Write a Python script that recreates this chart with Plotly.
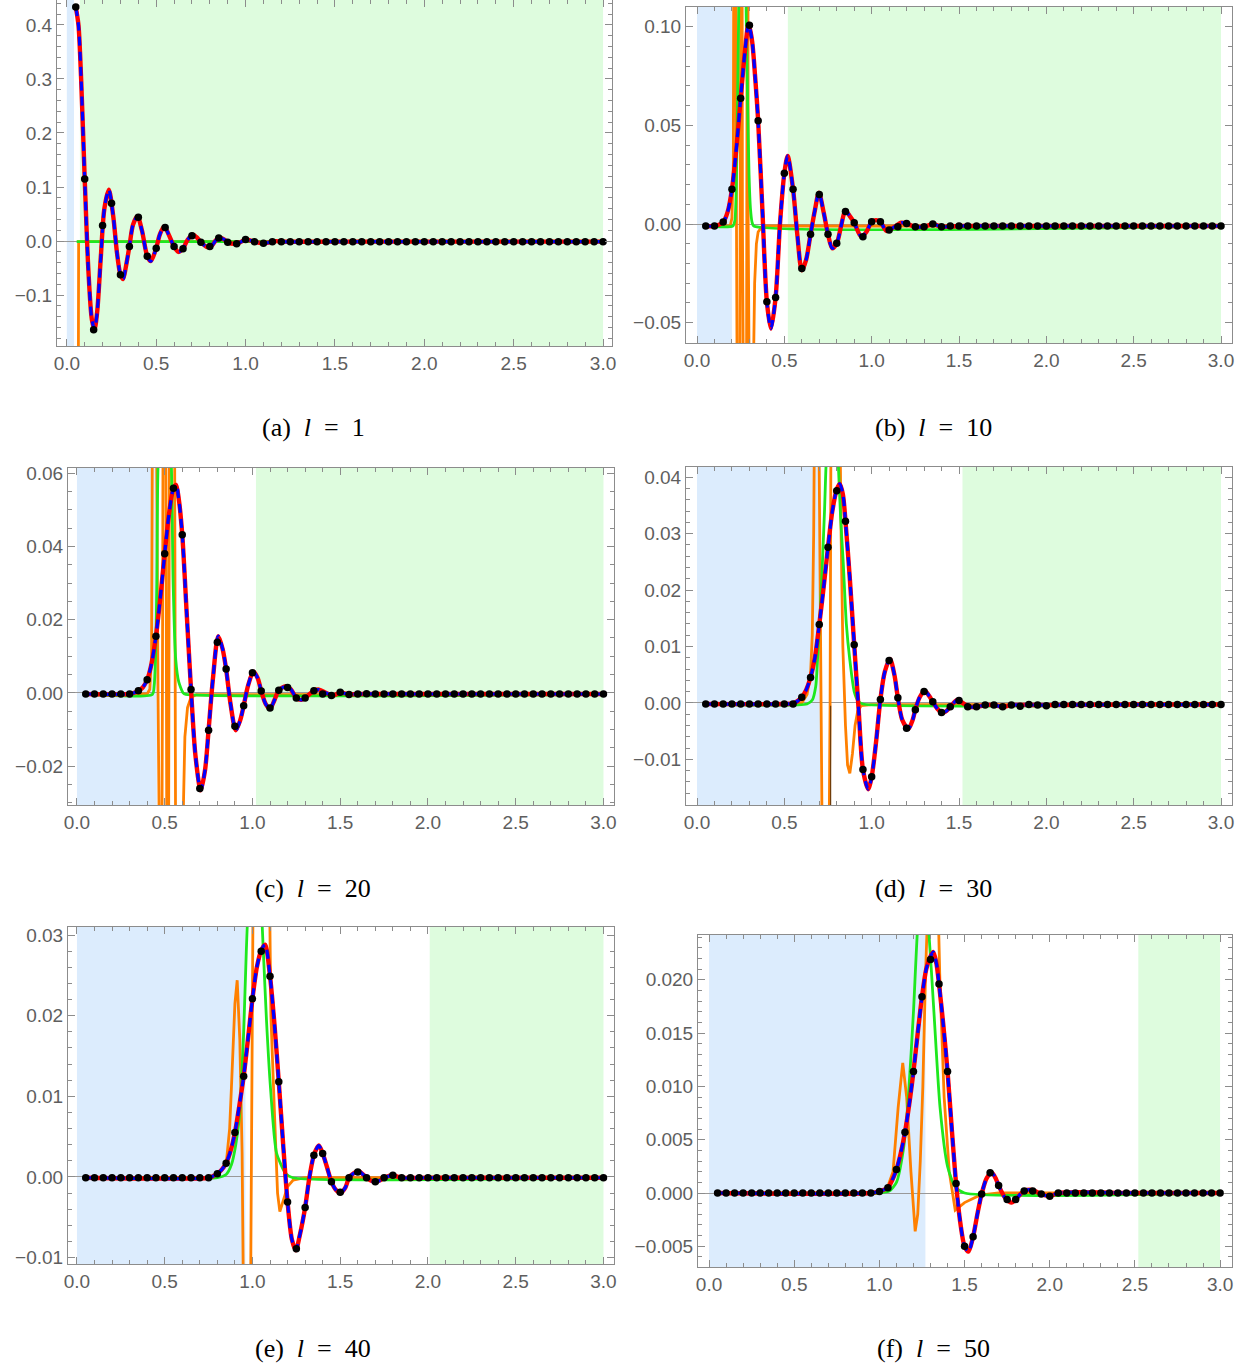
import plotly.graph_objects as go

W, H = 1248, 1366

DOT_X = [0.05, 0.10, 0.15, 0.20, 0.25, 0.30, 0.35, 0.40, 0.45, 0.50,
         0.55, 0.60, 0.65, 0.70, 0.75, 0.80, 0.85, 0.90, 0.95, 1.00,
         1.05, 1.10, 1.15, 1.20, 1.25, 1.30, 1.35, 1.40, 1.45, 1.50,
         1.55, 1.60, 1.65, 1.70, 1.75, 1.80, 1.85, 1.90, 1.95, 2.00,
         2.05, 2.10, 2.15, 2.20, 2.25, 2.30, 2.35, 2.40, 2.45, 2.50,
         2.55, 2.60, 2.65, 2.70, 2.75, 2.80, 2.85, 2.90, 2.95, 3.00]

# ---------------- panel (a) l = 1 ----------------
A_DOT_Y = [0.433, 0.115, -0.164, 0.029, 0.070, -0.062, -0.010, 0.044, -0.028, -0.013,
           0.025, -0.010, -0.014, 0.010, -0.002, -0.010, 0.006, -0.002, -0.005, 0.003,
           -0.001, -0.004, -0.001, -0.001, -0.001, -0.001, -0.001, -0.001, -0.001, -0.001,
           -0.001, -0.001, -0.001, -0.001, -0.001, -0.001, -0.001, -0.001, -0.001, -0.001,
           -0.001, -0.001, -0.001, -0.001, -0.001, -0.001, -0.001, -0.001, -0.001, -0.001,
           -0.001, -0.001, -0.001, -0.001, -0.001, -0.001, -0.001, -0.001, -0.001, -0.001]
A_CURVE_X = [0.05, 0.065, 0.08, 0.10, 0.12, 0.14, 0.155, 0.17, 0.19, 0.21, 0.235, 0.26, 0.28,
             0.30, 0.315, 0.33, 0.35, 0.37, 0.395, 0.42, 0.45, 0.47, 0.50, 0.52, 0.545, 0.57,
             0.60, 0.625, 0.65, 0.675, 0.705, 0.73, 0.75, 0.785, 0.81, 0.835, 0.86, 0.885,
             0.90, 0.94, 0.97, 1.00, 1.03, 1.05, 1.09, 1.12, 1.17, 1.20, 1.5, 2.0, 2.5, 3.0]
A_CURVE_Y = [0.433, 0.40, 0.30, 0.115, -0.05, -0.145, -0.163, -0.13, -0.03, 0.06, 0.095, 0.045, -0.02,
             -0.062, -0.070, -0.048, -0.010, 0.030, 0.046, 0.020, -0.028, -0.037, -0.013, 0.012, 0.027, 0.012,
             -0.010, -0.020, -0.014, 0.002, 0.012, 0.006, -0.002, -0.011, -0.009, 0.002, 0.006, 0.002,
             -0.002, -0.005, -0.002, 0.003, 0.001, -0.001, -0.004, -0.003, 0.0, -0.001, -0.001, -0.001, -0.001, -0.001]
A_ORANGE_X = [0.060, 0.062, 0.066, 3.0]
A_ORANGE_Y = [-1.0, -0.3, -0.001, -0.001]
A_GREEN_X = [0.055, 3.0]
A_GREEN_Y = [-0.001, -0.001]
A_REGIONS = [0.04, 0.073]   # blue end, green start

# ---------------- panel (b) l = 10 ----------------
B_DOT_Y = [-0.001, -0.001, 0.001, 0.0176, 0.0637, 0.1008, 0.0524, -0.0394, -0.0372, 0.0257,
           0.0176, -0.0225, -0.0052, 0.0150, -0.0052, -0.0098, 0.0063, 0.0007, -0.0064, 0.0012,
           0.0012, -0.003, -0.0014, 0.0003, -0.0014, -0.0014, 0.0, -0.0014, -0.001, -0.001,
           -0.001, -0.001, -0.001, -0.001, -0.001, -0.001, -0.001, -0.001, -0.001, -0.001,
           -0.001, -0.001, -0.001, -0.001, -0.001, -0.001, -0.001, -0.001, -0.001, -0.001,
           -0.001, -0.001, -0.001, -0.001, -0.001, -0.001, -0.001, -0.001, -0.001, -0.001]
B_CURVE_X = [0.05, 0.10, 0.15, 0.175, 0.20, 0.225, 0.25, 0.275, 0.295, 0.315, 0.335, 0.35, 0.375,
             0.40, 0.423, 0.45, 0.475, 0.50, 0.519, 0.55, 0.575, 0.60, 0.625, 0.65, 0.675, 0.698,
             0.725, 0.75, 0.774, 0.80, 0.825, 0.849, 0.875, 0.90, 0.94, 0.97, 1.00, 1.025, 1.05,
             1.085, 1.12, 1.17, 1.20, 1.25, 1.30, 1.35, 1.40, 1.5, 2.0, 2.5, 3.0]
B_CURVE_Y = [-0.001, -0.001, 0.001, 0.006, 0.0176, 0.038, 0.0637, 0.088, 0.1015, 0.093, 0.072, 0.0524, 0.006,
             -0.0394, -0.053, -0.0372, 0.0, 0.0257, 0.0345, 0.0176, -0.006, -0.0235, -0.018, -0.0052, 0.007, 0.0159,
             0.006, -0.0052, -0.0123, -0.0098, -0.001, 0.0068, 0.004, 0.0007, -0.0064, -0.004, 0.0012, 0.002, 0.0012,
             -0.0035, -0.002, 0.0007, 0.0003, -0.0014, -0.0014, 0.0, -0.0014, -0.001, -0.001, -0.001, -0.001]
B_ORANGE_X = [0.05, 0.19, 0.20, 0.208, 0.214, 0.22, 0.226, 0.232, 0.24, 0.247, 0.252, 0.256, 0.26,
              0.265, 0.28, 0.285, 0.288, 0.29, 0.293, 0.297, 0.315, 0.322, 0.33, 0.34, 0.35, 0.37, 0.40, 3.0]
B_ORANGE_Y = [-0.001, -0.001, 0.003, 0.03, 0.3, 0.3, 0.0, -0.3, -0.3, 0.0, 0.3, 0.3, 0.0,
              -0.3, -0.3, 0.0, 0.3, 0.3, 0.0, -0.3, -0.3, -0.08, -0.03, -0.01, -0.004, -0.0015, -0.001, -0.001]
B_GREEN_X = [0.05, 0.205, 0.217, 0.225, 0.232, 0.24, 0.26, 0.28, 0.29, 0.298, 0.306, 0.315, 0.325, 3.0]
B_GREEN_Y = [-0.001, -0.001, 0.002, 0.02, 0.06, 0.115, 0.20, 0.115, 0.06, 0.025, 0.008, 0.001, -0.001, -0.001]
B_REGIONS = [0.20, 0.52]

# ---------------- panel (c) l = 20 ----------------
C_DOT_Y = [-0.0003, -0.0003, -0.0003, -0.0003, -0.0003, -0.0003, 0.0006, 0.0036, 0.0155, 0.0380,
           0.0559, 0.0432, 0.0009, -0.0261, -0.0102, 0.0138, 0.0065, -0.0091, -0.0035, 0.0055,
           0.0005, -0.0041, 0.0007, 0.0015, -0.0014, -0.0014, 0.0006, -0.0003, -0.0007, 0.0002,
           -0.0004, -0.0003, -0.0002, -0.0003, -0.0003, -0.0003, -0.0003, -0.0003, -0.0003, -0.0003,
           -0.0003, -0.0003, -0.0003, -0.0003, -0.0003, -0.0003, -0.0003, -0.0003, -0.0003, -0.0003,
           -0.0003, -0.0003, -0.0003, -0.0003, -0.0003, -0.0003, -0.0003, -0.0003, -0.0003, -0.0003]
C_CURVE_X = [0.05, 0.30, 0.33, 0.35, 0.375, 0.40, 0.425, 0.45, 0.475, 0.50, 0.525, 0.55, 0.565, 0.58,
             0.60, 0.625, 0.65, 0.675, 0.705, 0.73, 0.75, 0.775, 0.805, 0.83, 0.85, 0.875, 0.905, 0.93,
             0.95, 0.975, 1.005, 1.03, 1.05, 1.075, 1.10, 1.125, 1.15, 1.19, 1.22, 1.25, 1.28, 1.31,
             1.35, 1.38, 1.42, 1.46, 1.50, 1.55, 1.6, 2.0, 2.5, 3.0]
C_CURVE_Y = [-0.0003, -0.0003, 0.0001, 0.0006, 0.0015, 0.0036, 0.008, 0.0155, 0.026, 0.038, 0.049, 0.0559, 0.0568, 0.053,
             0.0432, 0.022, 0.0009, -0.017, -0.0266, -0.021, -0.0102, 0.004, 0.0155, 0.012, 0.0065, -0.003, -0.0102, -0.0075,
             -0.0035, 0.002, 0.0058, 0.004, 0.0005, -0.003, -0.0043, -0.002, 0.0007, 0.0018, 0.0009, -0.0014, -0.0019, -0.001,
             0.0006, 0.0009, 0.0, -0.0007, 0.0001, -0.0004, -0.0003, -0.0003, -0.0003, -0.0003]
C_ORANGE_X = [0.05, 0.40, 0.415, 0.425, 0.432, 0.45, 0.462, 0.47, 0.48, 0.487, 0.492, 0.505, 0.51,
              0.515, 0.52, 0.525, 0.528, 0.555, 0.56, 0.565, 0.598, 0.607, 0.615, 0.63, 0.65, 0.68, 3.0]
C_ORANGE_Y = [-0.0003, -0.0003, 0.001, 0.01, 0.1, 0.1, 0.0, -0.1, -0.1, 0.0, 0.1, 0.1, 0.0,
              -0.1, -0.1, 0.0, 0.1, 0.1, 0.0, -0.1, -0.1, -0.03, -0.012, -0.004, -0.0012, -0.0005, -0.0004]
C_GREEN_X = [0.05, 0.43, 0.44, 0.448, 0.455, 0.462, 0.50, 0.538, 0.548, 0.563, 0.58, 0.605, 0.62, 3.0]
C_GREEN_Y = [-0.0004, -0.0004, 0.002, 0.01, 0.03, 0.062, 0.10, 0.062, 0.03, 0.009, 0.003, 0.0, -0.0004, -0.0004]
C_REGIONS = [0.455, 1.02]

# ---------------- panel (d) l = 30 ----------------
D_DOT_Y = [-0.0002, -0.0002, -0.0002, -0.0002, -0.0002, -0.0002, -0.0002, -0.0002, -0.0002, -0.0002,
           -0.0002, 0.0010, 0.0045, 0.0139, 0.0276, 0.0376, 0.0322, 0.0103, -0.0118, -0.0131,
           0.0006, 0.0075, 0.0009, -0.0045, -0.0012, 0.0020, 0.0002, -0.0017, -0.0007, 0.0004,
           -0.0007, -0.0007, -0.0004, -0.0004, -0.0007, -0.0004, -0.0006, -0.0003, -0.0004, -0.0005,
           -0.0003, -0.0003, -0.0003, -0.0003, -0.0003, -0.0003, -0.0003, -0.0003, -0.0003, -0.0003,
           -0.0003, -0.0003, -0.0003, -0.0003, -0.0003, -0.0003, -0.0003, -0.0003, -0.0003, -0.0003]
D_CURVE_X = [0.05, 0.50, 0.55, 0.575, 0.60, 0.625, 0.65, 0.675, 0.70, 0.725, 0.75, 0.775, 0.80, 0.817,
             0.835, 0.85, 0.875, 0.90, 0.925, 0.95, 0.98, 1.00, 1.025, 1.05, 1.075, 1.105, 1.13, 1.15,
             1.175, 1.21, 1.235, 1.25, 1.275, 1.305, 1.33, 1.35, 1.375, 1.40, 1.425, 1.45, 1.49, 1.53,
             1.56, 1.60, 1.65, 1.70, 1.75, 1.80, 2.0, 2.5, 3.0]
D_CURVE_Y = [-0.0002, -0.0002, -0.0001, 0.0003, 0.0010, 0.0023, 0.0045, 0.008, 0.0139, 0.0205, 0.0276, 0.034, 0.0378, 0.0388,
             0.037, 0.0322, 0.022, 0.0103, -0.001, -0.0118, -0.0153, -0.0131, -0.007, 0.0006, 0.0055, 0.0078, 0.005, 0.0009,
             -0.003, -0.0046, -0.003, -0.0012, 0.001, 0.0021, 0.0012, 0.0002, -0.001, -0.0017, -0.0015, -0.0007, 0.0005, -0.0002,
             -0.0007, -0.0007, -0.0004, -0.0004, -0.0007, -0.0004, -0.0004, -0.0003, -0.0003]
D_ORANGE_X = [0.05, 0.55, 0.60, 0.63, 0.65, 0.66, 0.668, 0.675, 0.695, 0.71, 0.718, 0.755, 0.762, 0.768,
              0.815, 0.825, 0.835, 0.85, 0.862, 0.875, 0.89, 0.905, 0.92, 0.94, 1.0, 3.0]
D_ORANGE_Y = [-0.0002, -0.0002, 0.0, 0.0015, 0.005, 0.012, 0.03, 0.06, 0.06, 0.01, -0.03, -0.03, 0.0, 0.06,
              0.06, 0.03, 0.01, -0.004, -0.011, -0.0125, -0.009, -0.004, -0.0015, -0.0005, -0.0003, -0.0003]
D_POLE_X = [0.765, 0.765]
D_POLE_Y = [-0.0005, -0.03]
D_GREEN_X = [0.05, 0.63, 0.66, 0.68, 0.69, 0.71, 0.73, 0.74, 0.775, 0.808, 0.822, 0.837, 0.855, 0.875,
             0.90, 0.923, 0.95, 3.0]
D_GREEN_Y = [-0.0002, -0.0002, 0.0005, 0.003, 0.0076, 0.019, 0.034, 0.043, 0.06, 0.043, 0.033, 0.025, 0.014, 0.0076,
             0.002, 0.0003, -0.0002, -0.0002]
D_REGIONS = [0.705, 1.52]

# ---------------- panel (e) l = 40 ----------------
E_DOT_Y = [-0.0001, -0.0001, -0.0001, -0.0001, -0.0001, -0.0001, -0.0001, -0.0001, -0.0001, -0.0001,
           -0.0001, -0.0001, -0.0001, -0.0001, -0.0001, 0.0004, 0.0017, 0.0055, 0.0125, 0.0221,
           0.0280, 0.0249, 0.0118, -0.0031, -0.0089, -0.0038, 0.0027, 0.0029, -0.0006, -0.0019,
           -0.0001, 0.0006, -0.0001, -0.0006, -0.0001, 0.0002, -0.0001, -0.0001, -0.0001, -0.0001,
           -0.0001, -0.0001, -0.0001, -0.0001, -0.0001, -0.0001, -0.0001, -0.0001, -0.0001, -0.0001,
           -0.0001, -0.0001, -0.0001, -0.0001, -0.0001, -0.0001, -0.0001, -0.0001, -0.0001, -0.0001]
E_CURVE_X = [0.05, 0.75, 0.775, 0.80, 0.825, 0.85, 0.875, 0.90, 0.925, 0.95, 0.975, 1.00, 1.025, 1.05,
             1.072, 1.10, 1.125, 1.15, 1.175, 1.20, 1.225, 1.247, 1.27, 1.30, 1.325, 1.35, 1.378, 1.40,
             1.425, 1.45, 1.475, 1.502, 1.53, 1.55, 1.58, 1.605, 1.63, 1.65, 1.68, 1.705, 1.73, 1.75,
             1.80, 1.85, 2.0, 2.5, 3.0]
E_CURVE_Y = [-0.0001, -0.0001, 0.0001, 0.0004, 0.0009, 0.0017, 0.0032, 0.0055, 0.0088, 0.0125, 0.0172, 0.0221, 0.0260, 0.0281,
             0.0288, 0.0249, 0.019, 0.0118, 0.004, -0.0031, -0.0078, -0.0091, -0.0072, -0.0038, 0.0, 0.0027, 0.0039, 0.0029,
             0.0012, -0.0006, -0.0016, -0.0020, -0.0013, -0.0001, 0.0005, 0.0007, 0.0003, -0.0001, -0.0005, -0.0006, -0.0004, -0.0001,
             0.0002, -0.0001, -0.0001, -0.0001, -0.0001]
E_ORANGE_X = [0.05, 0.75, 0.80, 0.83, 0.852, 0.87, 0.88, 0.90, 0.913, 0.928, 0.941, 0.948, 0.955, 0.985,
              0.994, 1.005, 1.095, 1.105, 1.127, 1.143, 1.156, 1.175, 1.20, 1.232, 1.3, 3.0]
E_ORANGE_Y = [-0.0001, -0.0001, 0.0002, 0.001, 0.002, 0.006, 0.011, 0.0215, 0.0244, 0.017, 0.003, -0.006, -0.03, -0.03,
              0.0, 0.04, 0.04, 0.02, 0.007, -0.002, -0.0043, -0.003, -0.0012, -0.0004, -0.0001, -0.0001]
E_GREEN_X = [0.05, 0.80, 0.85, 0.88, 0.905, 0.928, 0.95, 0.965, 0.98, 1.015, 1.045, 1.062, 1.08, 1.103,
             1.137, 1.19, 1.23, 3.0]
E_GREEN_Y = [-0.0001, -0.0001, 0.0003, 0.0015, 0.004, 0.008, 0.018, 0.028, 0.036, 0.045, 0.036, 0.028, 0.0194, 0.011,
             0.003, 0.0004, -0.0001, -0.0001]
E_REGIONS = [0.96, 2.01]

# ---------------- panel (f) l = 50 ----------------
F_DOT_Y = [0, 0, 0, 0, 0, 0, 0, 0, 0, 0,
           0, 0, 0, 0, 0, 0, 0, 0, 0, 0.00015,
           0.0005, 0.0022, 0.0057, 0.0114, 0.0184, 0.0219, 0.0196, 0.0114, 0.0009, -0.0050,
           -0.0041, -0.0001, 0.0019, 0.0007, -0.0006, -0.0006, 0.0002, 0.0002, -0.0001, -0.0003,
           0, 0, 0, 0, 0, 0, 0, 0, 0, 0,
           0, 0, 0, 0, 0, 0, 0, 0, 0, 0]
F_CURVE_X = [0.05, 0.95, 1.00, 1.05, 1.075, 1.10, 1.125, 1.15, 1.175, 1.20, 1.225, 1.25, 1.275, 1.30,
             1.317, 1.335, 1.35, 1.375, 1.40, 1.425, 1.45, 1.475, 1.50, 1.523, 1.55, 1.575, 1.60, 1.63,
             1.66, 1.685, 1.70, 1.74, 1.777, 1.80, 1.85, 1.895, 1.95, 2.00, 2.05, 2.5, 3.0]
F_CURVE_Y = [0, 0, 0.00015, 0.0005, 0.0012, 0.0022, 0.0037, 0.0057, 0.0083, 0.0114, 0.015, 0.0184, 0.021, 0.0222,
             0.0226, 0.0215, 0.0196, 0.0158, 0.0114, 0.006, 0.0009, -0.0028, -0.0050, -0.0055, -0.0041, -0.002, -0.0001, 0.0014,
             0.0019, 0.0013, 0.0007, -0.0005, -0.0009, -0.0006, 0.0002, 0.0003, -0.0001, -0.0003, 0, 0, 0]
F_ORANGE_X = [0.05, 1.0, 1.04, 1.08, 1.11, 1.137, 1.16, 1.185, 1.21, 1.225, 1.24, 1.255, 1.27, 1.28,
              1.31, 1.34, 1.355, 1.38, 1.41, 1.445, 1.5, 1.59, 1.7, 3.0]
F_ORANGE_Y = [0, 0, 0.0002, 0.002, 0.008, 0.0122, 0.009, 0.002, -0.0036, -0.002, 0.003, 0.01, 0.02, 0.03,
              0.04, 0.03, 0.02, 0.009, 0.002, -0.0016, -0.0009, -0.0002, 0, 0]
F_GREEN_X = [0.05, 1.0, 1.06, 1.10, 1.14, 1.17, 1.20, 1.225, 1.257, 1.288, 1.32, 1.356, 1.40, 1.444, 1.5, 3.0]
F_GREEN_Y = [0, 0, 0.0002, 0.001, 0.004, 0.009, 0.017, 0.025, 0.030, 0.025, 0.017, 0.008, 0.0025, 0.0006, 0, 0]
F_REGIONS = [1.27, 2.52]

CAPTIONS = ["(a)&nbsp; <i>l</i>&nbsp; =&nbsp; 1", "(b)&nbsp; <i>l</i>&nbsp; =&nbsp; 10",
            "(c)&nbsp; <i>l</i>&nbsp; =&nbsp; 20", "(d)&nbsp; <i>l</i>&nbsp; =&nbsp; 30",
            "(e)&nbsp; <i>l</i>&nbsp; =&nbsp; 40", "(f)&nbsp; <i>l</i>&nbsp; =&nbsp; 50"]

# ---------------- layout geometry (pixels) ----------------
panels = [
    dict(frame=(57, 612, 0, 346), xr=(-0.055, 3.05), yr=(-0.194, 0.446), dt=0.1, mdt=0.02, fmt=".1f",
         dots=A_DOT_Y, cx=A_CURVE_X, cy=A_CURVE_Y, ox=A_ORANGE_X, oy=A_ORANGE_Y, gx=A_GREEN_X, gy=A_GREEN_Y,
         reg=A_REGIONS, cap=(313, 428)),
    dict(frame=(686, 1232, 7, 343), xr=(-0.063, 3.063), yr=(-0.0603, 0.110), dt=0.05, mdt=0.01, fmt=".2f",
         dots=B_DOT_Y, cx=B_CURVE_X, cy=B_CURVE_Y, ox=B_ORANGE_X, oy=B_ORANGE_Y, gx=B_GREEN_X, gy=B_GREEN_Y,
         reg=B_REGIONS, cap=(933, 428)),
    dict(frame=(68, 614, 468, 805), xr=(-0.051, 3.06), yr=(-0.0306, 0.0614), dt=0.02, mdt=0.005, fmt=".2f",
         dots=C_DOT_Y, cx=C_CURVE_X, cy=C_CURVE_Y, ox=C_ORANGE_X, oy=C_ORANGE_Y, gx=C_GREEN_X, gy=C_GREEN_Y,
         reg=C_REGIONS, cap=(313, 888)),
    dict(frame=(686, 1232, 467, 805), xr=(-0.063, 3.063), yr=(-0.0181, 0.0418), dt=0.01, mdt=0.002, fmt=".2f",
         dots=D_DOT_Y, cx=D_CURVE_X, cy=D_CURVE_Y, ox=D_ORANGE_X, oy=D_ORANGE_Y, gx=D_GREEN_X, gy=D_GREEN_Y,
         reg=D_REGIONS, cap=(933, 888)),
    dict(frame=(68, 614, 927, 1264), xr=(-0.051, 3.06), yr=(-0.0108, 0.031), dt=0.01, mdt=0.002, fmt=".2f",
         dots=E_DOT_Y, cx=E_CURVE_X, cy=E_CURVE_Y, ox=E_ORANGE_X, oy=E_ORANGE_Y, gx=E_GREEN_X, gy=E_GREEN_Y,
         reg=E_REGIONS, cap=(313, 1348)),
    dict(frame=(698, 1232, 935, 1267), xr=(-0.065, 3.07), yr=(-0.00694, 0.0242), dt=0.005, mdt=0.001, fmt=".3f",
         dots=F_DOT_Y, cx=F_CURVE_X, cy=F_CURVE_Y, ox=F_ORANGE_X, oy=F_ORANGE_Y, gx=F_GREEN_X, gy=F_GREEN_Y,
         reg=F_REGIONS, cap=(933, 1348)),
]

BLUE_FILL = "rgb(220,236,253)"
GREEN_FILL = "rgb(222,252,222)"
ORANGE = "rgb(255,128,0)"
GREEN = "rgb(30,232,30)"
FRAME = "#8c8c8c"
TICKFONT = dict(family="Liberation Sans, Arial, sans-serif", size=19, color="#5e5e5e")

fig = go.Figure()
layout = dict(width=W, height=H, margin=dict(l=0, r=0, t=0, b=0, autoexpand=False),
              paper_bgcolor="white", plot_bgcolor="white", showlegend=False)
shapes = []
annotations = []

for i, p in enumerate(panels):
    n = "" if i == 0 else str(i + 1)
    xa, ya = "x" + n, "y" + n
    x0, x1, y0, y1 = p["frame"]
    layout["xaxis" + n] = dict(
        domain=[x0 / W, x1 / W], range=list(p["xr"]), anchor=ya, automargin=False,
        showline=True, linecolor=FRAME, linewidth=1, mirror="ticks",
        ticks="inside", ticklen=7, tickcolor=FRAME, tick0=0, dtick=0.5, tickformat=".1f",
        minor=dict(ticks="inside", ticklen=4, dtick=0.1, tick0=0, tickcolor=FRAME),
        showgrid=False, zeroline=False, tickfont=TICKFONT, fixedrange=True)
    layout["yaxis" + n] = dict(
        domain=[1 - y1 / H, 1 - y0 / H], range=list(p["yr"]), anchor=xa, automargin=False,
        showline=True, linecolor=FRAME, linewidth=1, mirror="ticks",
        ticks="inside", ticklen=7, tickcolor=FRAME, tick0=0, dtick=p["dt"], tickformat=p["fmt"],
        minor=dict(ticks="inside", ticklen=4, dtick=p["mdt"], tick0=0, tickcolor=FRAME),
        showgrid=False, zeroline=True, zerolinecolor="#999999", zerolinewidth=1,
        tickfont=TICKFONT, fixedrange=True)
    blue_end, green_start = p["reg"]
    shapes.append(dict(type="rect", xref=xa, yref=ya + " domain", x0=0, x1=blue_end, y0=0, y1=1,
                       fillcolor=BLUE_FILL, line_width=0, layer="below"))
    shapes.append(dict(type="rect", xref=xa, yref=ya + " domain", x0=green_start, x1=3.0, y0=0, y1=1,
                       fillcolor=GREEN_FILL, line_width=0, layer="below"))

    fig.add_trace(go.Scatter(x=p["ox"], y=p["oy"], mode="lines", xaxis=xa, yaxis=ya,
                             line=dict(color=ORANGE, width=2.8), hoverinfo="skip"))
    if i == 3:
        fig.add_trace(go.Scatter(x=D_POLE_X, y=D_POLE_Y, mode="lines", xaxis=xa, yaxis=ya,
                                 line=dict(color="rgb(110,60,10)", width=1.2), hoverinfo="skip"))
    fig.add_trace(go.Scatter(x=p["gx"], y=p["gy"], mode="lines", xaxis=xa, yaxis=ya,
                             line=dict(color=GREEN, width=2.8, shape="spline", smoothing=0.6), hoverinfo="skip"))
    fig.add_trace(go.Scatter(x=p["cx"], y=p["cy"], mode="lines", xaxis=xa, yaxis=ya,
                             line=dict(color="rgb(255,0,0)", width=4.4, shape="spline", smoothing=0.8),
                             hoverinfo="skip"))
    fig.add_trace(go.Scatter(x=p["cx"], y=p["cy"], mode="lines", xaxis=xa, yaxis=ya,
                             line=dict(color="rgb(0,0,255)", width=3.2, shape="spline", smoothing=0.8,
                                       dash="9px,6px"), hoverinfo="skip"))
    fig.add_trace(go.Scatter(x=DOT_X, y=p["dots"], mode="markers", xaxis=xa, yaxis=ya,
                             marker=dict(color="black", size=7.5), hoverinfo="skip"))
    cx, cy = p["cap"]
    annotations.append(dict(text=CAPTIONS[i], xref="paper", yref="paper", x=cx / W, y=1 - cy / H,
                            showarrow=False, xanchor="center", yanchor="middle",
                            font=dict(family="Liberation Serif, DejaVu Serif, serif", size=26, color="black")))

layout["shapes"] = shapes
layout["annotations"] = annotations
fig.update_layout(**layout)
fig.write_html("out.html", config={"displayModeBar": False},
               post_script="document.body.style.margin='0';document.body.style.overflow='hidden';")
